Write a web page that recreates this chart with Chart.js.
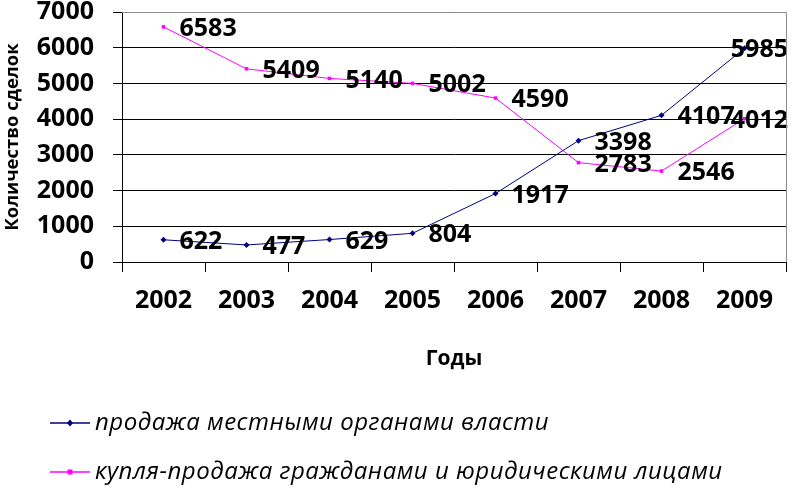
<!DOCTYPE html>
<html>
<head>
<meta charset="utf-8">
<script src="https://cdn.jsdelivr.net/npm/chart.js@4.4.1/dist/chart.umd.min.js"></script>
<style>
  html, body { margin: 0; padding: 0; background: #fff; }
  #wrap { width: 794px; height: 498px; }
</style>
</head>
<body>
<div id="wrap"><canvas id="chart" width="794" height="498"></canvas></div>
<script>
// data
const years = ["2002", "2003", "2004", "2005", "2006", "2007", "2008", "2009"];
const salesLocal = [622, 477, 629, 804, 1917, 3398, 4107, 5985];
const salesCitizens = [6583, 5409, 5140, 5002, 4590, 2783, 2546, 4012];
const seriesNames = [
  "продажа местными органами власти",
  "купля-продажа гражданами и юридическими лицами",
];
const yMin = 0;
const yMax = 7000;
const yStep = 1000;

const FONT = "'Open Sans', 'Noto Sans', sans-serif";
const NAVY = "#000080";
const MAGENTA = "#FF00FF";

// value labels next to each point
const valueLabels = {
  id: "valueLabels",
  afterDatasetsDraw(chart) {
    const { ctx } = chart;
    ctx.save();
    ctx.font = "bold 25px " + FONT;
    ctx.fillStyle = "#000";
    ctx.textAlign = "left";
    ctx.textBaseline = "middle";
    chart.data.datasets.forEach((ds, i) => {
      const meta = chart.getDatasetMeta(i);
      meta.data.forEach((pt, j) => {
        const txt = String(ds.data[j]);
        const w = ctx.measureText(txt).width;
        const x = Math.min(pt.x + 16, chart.width - 6 - w);
        ctx.fillText(txt, x, pt.y + 2);
      });
    });
    ctx.restore();
  },
};

// gray frame on top and right of plot area
const plotFrame = {
  id: "plotFrame",
  afterDraw(chart) {
    const { ctx, chartArea: a } = chart;
    ctx.save();
    ctx.strokeStyle = "#8c8c8c";
    ctx.lineWidth = 1;
    ctx.beginPath();
    ctx.moveTo(a.left, a.top + 0.5);
    ctx.lineTo(a.right + 0.5, a.top + 0.5);
    ctx.lineTo(a.right + 0.5, a.bottom);
    ctx.stroke();
    ctx.restore();
  },
};

// legend stacked under the chart
const stackedLegend = {
  id: "stackedLegend",
  afterDraw(chart) {
    const { ctx } = chart;
    ctx.save();
    chart.data.datasets.forEach((ds, i) => {
      const y = 423 + i * 49;
      ctx.strokeStyle = ds.borderColor;
      ctx.lineWidth = 1.5;
      ctx.beginPath();
      ctx.moveTo(50, y);
      ctx.lineTo(90, y);
      ctx.stroke();
      ctx.fillStyle = ds.borderColor;
      if (ds.pointStyle === "rect") {
        ctx.fillRect(67.5, y - 2.5, 5, 5);
      } else {
        ctx.beginPath();
        ctx.moveTo(70, y - 3.5);
        ctx.lineTo(73, y);
        ctx.lineTo(70, y + 3.5);
        ctx.lineTo(67, y);
        ctx.closePath();
        ctx.fill();
      }
      ctx.fillStyle = "#000";
      ctx.font = "italic 24px " + FONT;
      ctx.letterSpacing = "0.5px";
      ctx.textAlign = "left";
      ctx.textBaseline = "middle";
      ctx.fillText(ds.label, 95, y);
    });
    ctx.restore();
  },
};

new Chart(document.getElementById("chart"), {
  type: "line",
  data: {
    labels: years,
    datasets: [
      {
        label: seriesNames[0],
        data: salesLocal,
        borderColor: NAVY,
        backgroundColor: NAVY,
        borderWidth: 1,
        pointStyle: "rectRot",
        pointRadius: 3,
        pointBorderWidth: 0,
        tension: 0,
      },
      {
        label: seriesNames[1],
        data: salesCitizens,
        borderColor: MAGENTA,
        backgroundColor: MAGENTA,
        borderWidth: 1,
        pointStyle: "rect",
        pointRadius: 2.5,
        pointBorderWidth: 0,
        tension: 0,
      },
    ],
  },
  plugins: [valueLabels, plotFrame, stackedLegend],
  options: {
    responsive: false,
    animation: false,
    layout: {
      padding: { left: 0, top: 0, right: 8, bottom: 118 },
    },
    scales: {
      x: {
        offset: true,
        grid: {
          display: true,
          offset: true,
          drawOnChartArea: false,
          color: "#000",
          tickLength: 10,
        },
        border: { color: "#000" },
        ticks: {
          color: "#000",
          padding: 14,
          font: { family: FONT, size: 25, weight: "bold" },
        },
        title: {
          display: true,
          text: "Годы",
          color: "#000",
          padding: { top: 0, bottom: 8 },
          font: { family: FONT, size: 21, weight: "bold" },
        },
        afterFit: (s) => {
          s.height = 118;
        },
      },
      y: {
        min: yMin,
        max: yMax,
        grid: {
          color: "#000",
          tickLength: 9,
        },
        border: { color: "#000" },
        ticks: {
          stepSize: yStep,
          autoSkip: false,
          color: "#000",
          padding: 19,
          callback: (v) => String(v),
          font: { family: FONT, size: 25, weight: "bold", lineHeight: 1 },
        },
        title: {
          display: true,
          text: "Количество сделок",
          color: "#000",
          padding: { top: 2, bottom: 0 },
          font: { family: FONT, size: 18.5, weight: "bold" },
        },
        afterFit: (s) => {
          s.width = 122;
          s.paddingTop = 12;
          s.paddingBottom = 0;
        },
      },
    },
    plugins: {
      legend: { display: false },
      tooltip: { enabled: false },
    },
  },
});
</script>
</body>
</html>
